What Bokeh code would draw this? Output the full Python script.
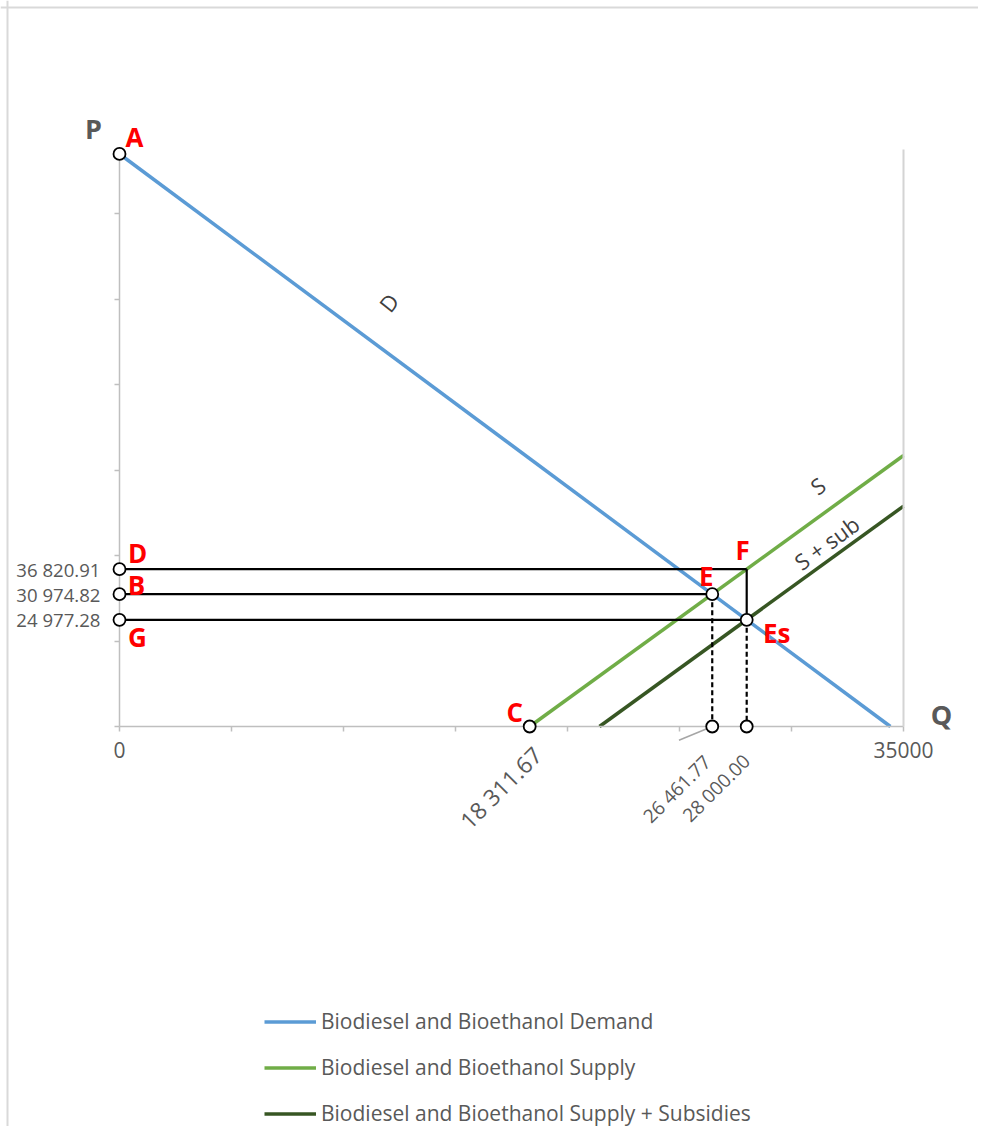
import math
from bokeh.plotting import figure
from bokeh.models import Range1d, LinearAxis, FixedTicker, Legend, LegendItem, Span, ColumnDataSource
from bokeh.core.properties import value
from bokeh.embed import file_html
from bokeh.resources import INLINE

# ---------------- data ----------------
q_axis_max = 35000
p_axis_max = 135000
q_ticks = [0, 5000, 10000, 15000, 20000, 25000, 30000, 35000]
q_tick_text = {0: "0", 35000: "35000"}
p_ticks = [0, 20000, 40000, 60000, 80000, 100000, 120000]

demand_q = [0, 34415]
demand_p = [134000, 0]
supply_q = [18311.67, 35000]
supply_p = [0, 63424]
supply_sub_q = [21428, 35000]
supply_sub_p = [0, 51578]

price_levels = [36820.91, 30974.82, 24977.28]
price_labels = ["36 820.91", "30 974.82", "24 977.28"]
qty_levels = [18311.67, 26461.77, 28000.00]
qty_labels = ["18 311.67", "26 461.77", "28 000.00"]

# horizontal guide lines (from the P axis to the point)
hline_p = [36820.91, 30974.82, 24977.28]
hline_q_end = [28000.00, 26461.77, 28000.00]
# solid vertical F -> Es
vline_q = [28000.00]
vline_p_top = [36820.91]
vline_p_bot = [24977.28]
# dashed drops to the Q axis
drop_q = [26461.77, 28000.00]
drop_p = [30974.82, 24977.28]

# hollow points
pt_q = [0, 0, 0, 0, 18311.67, 26461.77, 28000.00, 26461.77, 28000.00]
pt_p = [134000, 36820.91, 30974.82, 24977.28, 0, 30974.82, 24977.28, 0, 0]

# point names
name_text = ["A", "D", "B", "G", "C", "E", "F", "Es"]
name_q = [0, 0, 0, 0, 18311.67, 26461.77, 28000.00, 28000.00]
name_p = [134000, 36820.91, 30974.82, 24977.28, 0, 30974.82, 36820.91, 24977.28]

# curve labels
curve_text = ["D", "S", "S + sub"]
curve_q = [12009, 31161, 31563]
curve_p = [99237, 56406, 43065]

legend_labels = ["Biodiesel and Bioethanol Demand",
                 "Biodiesel and Bioethanol Supply",
                 "Biodiesel and Bioethanol Supply + Subsidies"]

# ---------------- layout ----------------
W, H = 978, 1126
# canvas pixel positions of the axes
x0_px, x1_px = 119, 903
y0_px, y1_px = 726, 149.2
kx = (x1_px - x0_px) / q_axis_max
ky = (y0_px - y1_px) / p_axis_max
x_start = (0 - x0_px) / kx
x_end = (W - x0_px) / kx
y_start = -(H - y0_px) / ky
y_end = (y0_px - 0) / ky

FONT = value("Open Sans")
GRAY_TXT = "#595959"
BLUE = "#5b9bd5"
GREEN = "#70ad47"
DGREEN = "#375623"

p = figure(width=W, height=H, output_backend="svg", toolbar_location=None,
           x_axis_type=None, y_axis_type=None,
           x_range=Range1d(x_start, x_end), y_range=Range1d(y_start, y_end),
           min_border=0, min_border_left=0, min_border_right=0,
           min_border_top=0, min_border_bottom=0)
p.outline_line_color = None
p.background_fill_color = "white"
p.border_fill_color = "white"

# chart-area border (left and top edges)
p.add_layout(Span(location=(7 - x0_px) / kx, dimension="height",
                  line_color="#d9d9d9", line_width=2))
p.add_layout(Span(location=(y0_px - 7) / ky, dimension="width",
                  line_color="#d9d9d9", line_width=2))

# axes
xaxis = LinearAxis(fixed_location=0, bounds=(0, q_axis_max),
                   ticker=FixedTicker(ticks=q_ticks, minor_ticks=[]),
                   major_label_overrides={t: q_tick_text.get(t, "") for t in q_ticks})
yaxis = LinearAxis(fixed_location=0, bounds=(0, p_axis_max),
                   ticker=FixedTicker(ticks=p_ticks + price_levels, minor_ticks=[]),
                   major_label_overrides={**{t: "" for t in p_ticks},
                                          **dict(zip(price_levels, price_labels))})
for ax, fs, so in ((xaxis, "21px", 10), (yaxis, "18.6px", 14)):
    ax.axis_line_color = "#bfbfbf"
    ax.axis_line_width = 1.5
    ax.major_tick_line_color = "#bfbfbf"
    ax.major_tick_line_width = 1.5
    ax.major_tick_in = 0
    ax.major_tick_out = 5
    ax.minor_tick_line_color = None
    ax.major_label_text_font = "Open Sans"
    ax.major_label_text_font_size = fs
    ax.major_label_text_color = GRAY_TXT
    ax.major_label_standoff = so
p.add_layout(xaxis, "below")
p.add_layout(yaxis, "left")

raxis = LinearAxis(fixed_location=q_axis_max, bounds=(0, p_axis_max),
                   ticker=FixedTicker(ticks=[], minor_ticks=[]))
raxis.axis_line_color = "#d4d4d4"
raxis.axis_line_width = 2
raxis.major_tick_line_color = None
raxis.minor_tick_line_color = None
p.add_layout(raxis, "right")

# curves
r_sup = p.line(supply_q, supply_p, line_color=GREEN, line_width=3.5)
r_sub = p.line(supply_sub_q, supply_sub_p, line_color=DGREEN, line_width=3.5)
r_dem = p.line(demand_q, demand_p, line_color=BLUE, line_width=3.5)

# guide lines
p.segment(x0=[0] * len(hline_p), y0=hline_p, x1=hline_q_end, y1=hline_p,
          line_color="black", line_width=2.2)
p.segment(x0=vline_q, y0=vline_p_top, x1=vline_q, y1=vline_p_bot,
          line_color="black", line_width=2.2)
p.segment(x0=drop_q, y0=drop_p, x1=drop_q, y1=[0] * len(drop_q),
          line_color="black", line_width=2.2, line_dash="5 3")

# leader line of the 26 461.77 label
p.ray(x=[qty_levels[1]], y=[0], angle=math.pi + 0.39, length=36,
      length_units="screen", line_color="#a6a6a6", line_width=1.5)

# hollow points
p.scatter(pt_q, pt_p, size=12, fill_color="white", line_color="black",
          line_width=1.8, level="overlay")

# point names
name_dx = [15, 18, 17, 18, -15, -6, -4, 30]
name_dy = [-17, -16, -9, 17, -15, -18, -19, 13]
p.text(x=name_q, y=name_p, text=name_text, x_offset=name_dx, y_offset=name_dy,
       text_color="#ff0000", text_font=FONT, text_font_style="bold",
       text_font_size="26px", text_align="center", text_baseline="middle")

# axis names
p.text(x=[0, q_axis_max], y=[p_axis_max, 0], text=["P", "Q"],
       x_offset=[-26, 38], y_offset=[-21, -12],
       text_color=GRAY_TXT, text_font=FONT, text_font_style="bold",
       text_font_size="27px", text_align="center", text_baseline="middle")

# rotated quantity labels
qsrc = ColumnDataSource(dict(x=qty_levels, y=[0] * 3, t=qty_labels,
                             dx=[-29, -35.5, -30.5], dy=[61, 62.5, 61.5],
                             fs=["23px", "19px", "19px"]))
p.text(x="x", y="y", text="t", x_offset="dx", y_offset="dy", source=qsrc,
       angle=math.pi / 4, text_color=GRAY_TXT, text_font=FONT,
       text_font_size="fs", text_align="center", text_baseline="middle")

# curve labels
p.text(x=curve_q, y=curve_p, text=curve_text, angle=[0.9, 0.63, 0.63],
       text_color="#404040", text_font=FONT, text_font_size="22px",
       text_align="center", text_baseline="middle")

legend = Legend(items=[LegendItem(label=legend_labels[0], renderers=[r_dem]),
                       LegendItem(label=legend_labels[1], renderers=[r_sup]),
                       LegendItem(label=legend_labels[2], renderers=[r_sub])],
                location=(264, -1), orientation="vertical",
                glyph_width=52, glyph_height=27, label_height=27, spacing=18,
                label_standoff=5, padding=0, margin=0,
                border_line_color=None, background_fill_alpha=0,
                label_text_font="Open Sans", label_text_font_size="21px",
                label_text_color=GRAY_TXT)
p.add_layout(legend, "center")

open("out.html", "w").write(file_html(p, INLINE))
